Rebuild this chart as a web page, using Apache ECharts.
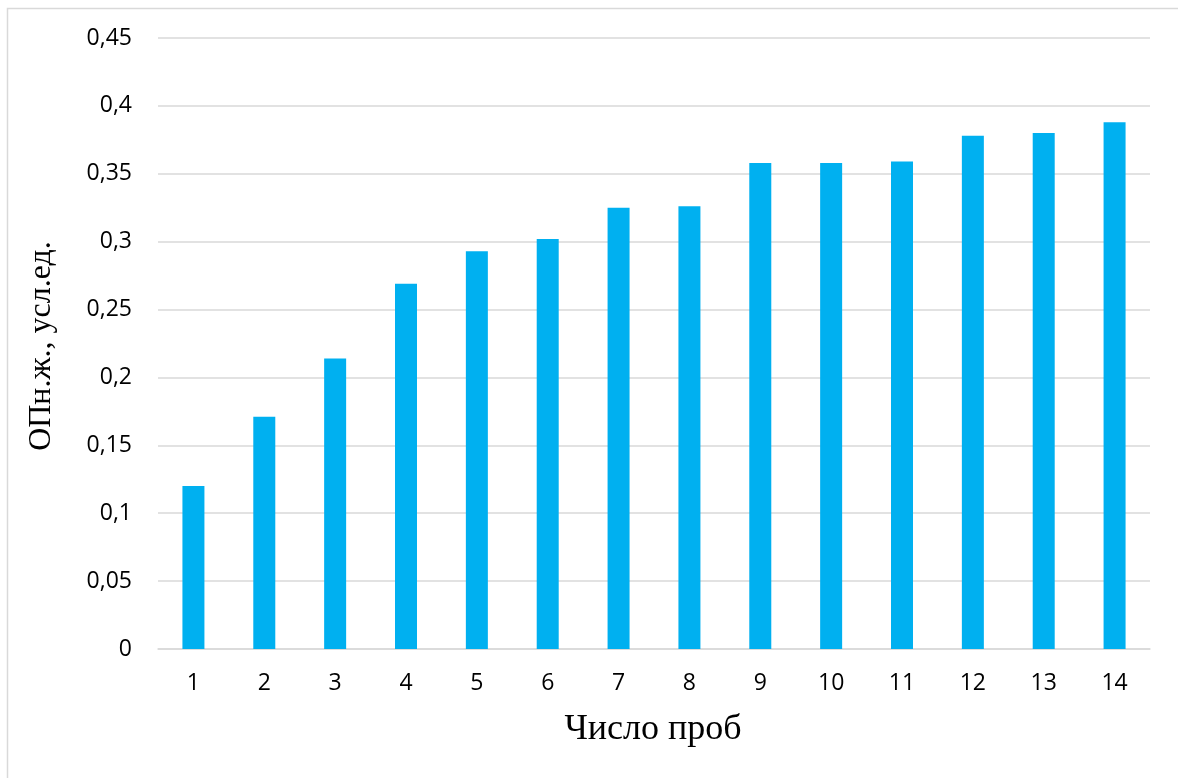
<!DOCTYPE html>
<html><head><meta charset="utf-8">
<script src="https://cdn.jsdelivr.net/npm/echarts@6/dist/echarts.min.js"></script>
<style>html,body{margin:0;padding:0;background:#fff;}#c{width:1178px;height:778px;}</style>
</head><body><div id="c"></div>
<script>
const categories = ['1','2','3','4','5','6','7','8','9','10','11','12','13','14'];
const values = [0.120, 0.171, 0.214, 0.269, 0.293, 0.302, 0.325, 0.326, 0.358, 0.358, 0.359, 0.378, 0.380, 0.388];
const xTitle = 'Число проб';
const yTitle = 'ОПн.ж., усл.ед.';

const chart = echarts.init(document.getElementById('c'), null, {renderer: 'canvas'});
chart.setOption({
  animation: false,
  backgroundColor: '#fff',
  graphic: [{
    type: 'rect', silent: true,
    shape: {x: 7.5, y: 8.5, width: 1200, height: 800},
    style: {fill: 'none', stroke: '#d9d9d9', lineWidth: 1.5}
  }, {
    type: 'text', silent: true,
    x: 653, y: 730,
    style: {text: xTitle, font: '36px "Liberation Serif"', fill: '#000', align: 'center', verticalAlign: 'middle'}
  }, {
    type: 'text', silent: true,
    x: 42, y: 346, rotation: Math.PI / 2,
    style: {text: yTitle, font: '32px "Liberation Serif"', fill: '#000', align: 'center', verticalAlign: 'middle'}
  }],
  grid: {left: 158, right: 28, top: 38, bottom: 129, containLabel: false},
  xAxis: {
    type: 'category',
    data: categories,
    axisLine: {show: true, lineStyle: {color: '#d9d9d9', width: 1.5}},
    axisTick: {show: false},
    axisLabel: {color: '#000', fontFamily: 'Open Sans', fontSize: 23, margin: 23}
  },
  yAxis: {
    type: 'value',
    min: 0, max: 0.45, interval: 0.05,
    axisLine: {show: false},
    axisTick: {show: false},
    splitLine: {lineStyle: {color: '#d9d9d9', width: 1.5}},
    axisLabel: {
      color: '#000', fontFamily: 'Open Sans', fontSize: 23, margin: 26,
      formatter: v => String(Math.round(v * 100) / 100).replace('.', ',')
    }
  },
  series: [{
    type: 'bar',
    data: values,
    barWidth: 22,
    itemStyle: {color: '#00b0f0'}
  }]
});
</script>
</body></html>
